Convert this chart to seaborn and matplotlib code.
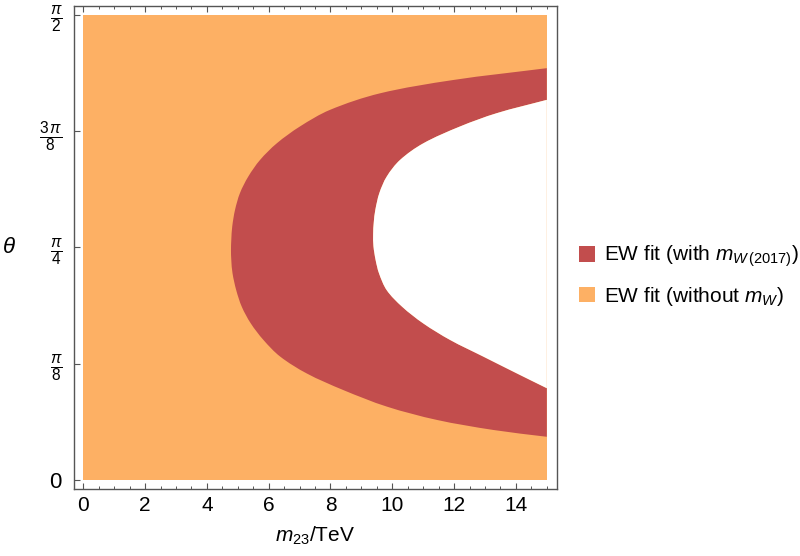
import numpy as np
import matplotlib
matplotlib.use("Agg")
import matplotlib.pyplot as plt
from matplotlib.patches import Patch, PathPatch
from matplotlib.path import Path
import seaborn as sns

# ---- data ----
# full orange band (EW fit without m_W): m23 in [0,15], theta in [0, pi/2]
band_x = [0.0, 15.0]
band_theta = [0.0, np.pi / 2]

# outer boundary of red region (theta, m23), top to bottom
outer_theta = [1.391, 1.351, 1.306, 1.250, 1.194, 1.137, 1.081, 1.025, 0.969, 0.912,
               0.856, 0.811, 0.777, 0.743, 0.698, 0.641, 0.585, 0.529, 0.473, 0.417,
               0.360, 0.304, 0.248, 0.203, 0.169, 0.146]
outer_x = [15.0, 11.97, 9.60, 7.98, 7.01, 6.26, 5.72, 5.34, 5.07, 4.91,
           4.82, 4.79, 4.78, 4.79, 4.83, 4.95, 5.13, 5.42, 5.83, 6.37,
           7.23, 8.41, 9.82, 11.44, 13.27, 15.0]

# inner boundary of red region (theta, m23), bottom to top
inner_theta = [0.310, 0.360, 0.417, 0.473, 0.529, 0.585, 0.641, 0.698, 0.743, 0.790,
               0.831, 0.870, 0.912, 0.969, 1.025, 1.081, 1.137, 1.194, 1.239, 1.284]
inner_x = [15.0, 14.03, 12.94, 11.87, 11.00, 10.32, 9.82, 9.57, 9.46, 9.39,
           9.38, 9.40, 9.45, 9.58, 9.82, 10.25, 11.00, 12.19, 13.38, 15.0]

x_ticks = [0, 2, 4, 6, 8, 10, 12, 14]
y_ticks = [0, np.pi / 8, np.pi / 4, 3 * np.pi / 8, np.pi / 2]
y_ticklabels = [r"$0$", r"$\frac{\pi}{8}$", r"$\frac{\pi}{4}$", r"$\frac{3\,\pi}{8}$", r"$\frac{\pi}{2}$"]
labels = [r"EW fit (with $m_{W\,\mathrm{(2017)}}$)", r"EW fit (without $m_W$)"]

RED = "#C24D4D"
ORANGE = "#FDB064"

SX, SY = 30.9, 296.0  # approximate display aspect, used only for smooth tangents


def smooth_segments(xs, ys, first=True):
    """Cubic Bezier drawing passing through the read points (Catmull-Rom-like tangents)."""
    P = np.column_stack([np.asarray(xs) * SX, np.asarray(ys) * SY])
    n = len(P)
    d = np.linalg.norm(np.diff(P, axis=0), axis=1)
    T = np.zeros_like(P)
    T[0] = (P[1] - P[0]) / d[0]
    T[-1] = (P[-1] - P[-2]) / d[-1]
    for i in range(1, n - 1):
        T[i] = (P[i + 1] - P[i - 1]) / (d[i - 1] + d[i])
    verts = [tuple(P[0])]
    codes = [Path.MOVETO if first else Path.LINETO]
    for i in range(n - 1):
        c1 = P[i] + T[i] * d[i] / 3
        c2 = P[i + 1] - T[i + 1] * d[i] / 3
        verts += [tuple(c1), tuple(c2), tuple(P[i + 1])]
        codes += [Path.CURVE4] * 3
    verts = [(vx / SX, vy / SY) for vx, vy in verts]
    return verts, codes


sns.set_theme(style="ticks")
plt.rcParams["font.family"] = ["Liberation Sans", "DejaVu Sans"]
plt.rcParams["mathtext.fontset"] = "custom"
plt.rcParams["mathtext.rm"] = "Liberation Sans"
plt.rcParams["mathtext.it"] = "Liberation Sans:italic"
plt.rcParams["mathtext.bf"] = "Liberation Sans:bold"
plt.rcParams["text.color"] = "black"
plt.rcParams["axes.labelcolor"] = "black"

fig = plt.figure(figsize=(8.0, 5.56), dpi=100)
ax = fig.add_axes([74 / 800, 67 / 556, (556.7 - 74) / 800, (489 - 6) / 556])

# orange band
ax.fill_between(band_x, band_theta[0], band_theta[1], color=ORANGE, linewidth=0, zorder=1)

# red region: outer curve top->bottom, then x=15 edge, inner curve bottom->top
v1, c1 = smooth_segments(outer_x, outer_theta, first=True)
v2, c2 = smooth_segments(inner_x, inner_theta, first=False)
ax.add_patch(PathPatch(Path(v1 + v2 + [v1[0]], c1 + c2 + [Path.CLOSEPOLY]),
                       facecolor=RED, edgecolor="none", zorder=2))

# white interior (excluded by both fits)
v3, c3 = smooth_segments(inner_x, inner_theta, first=True)
ax.add_patch(PathPatch(Path(v3 + [v3[0]], c3 + [Path.CLOSEPOLY]),
                       facecolor="white", edgecolor="none", zorder=2))

ax.set_xlim(-0.30, 15.32)
ax.set_ylim(-0.0304, 1.601)

ax.set_xticks(x_ticks)
ax.set_xticks(np.arange(0, 15.01, 0.5), minor=True)
ax.set_yticks(y_ticks)
ax.set_yticklabels(y_ticklabels)

frame_col = "#555555"
for s in ax.spines.values():
    s.set_color(frame_col)
    s.set_linewidth(1.0)

ax.tick_params(axis="both", which="major", direction="in", length=4.5, width=0.8,
               color=frame_col, labelsize=15, labelcolor="black", top=True, right=False, pad=5)
ax.tick_params(axis="x", which="minor", direction="in", length=2.5, width=0.7,
               color=frame_col, top=True)
ax.tick_params(axis="y", which="major", labelsize=16, pad=8)

ax.set_xlabel(r"$m_{23}\mathrm{/TeV}$", fontsize=15, labelpad=7)
ax.set_ylabel(r"$\theta$", fontsize=16, rotation=0, labelpad=22, va="center")

handles = [Patch(facecolor=RED, edgecolor="none"), Patch(facecolor=ORANGE, edgecolor="none")]
fig.legend(handles, labels, loc="center left", bbox_to_anchor=(571 / 800, 1 - 276 / 556),
           frameon=False, fontsize=15, handlelength=0.75, handleheight=0.75,
           handletextpad=0.45, labelspacing=0.75, borderaxespad=0)

fig.savefig("out.png", dpi=100)
